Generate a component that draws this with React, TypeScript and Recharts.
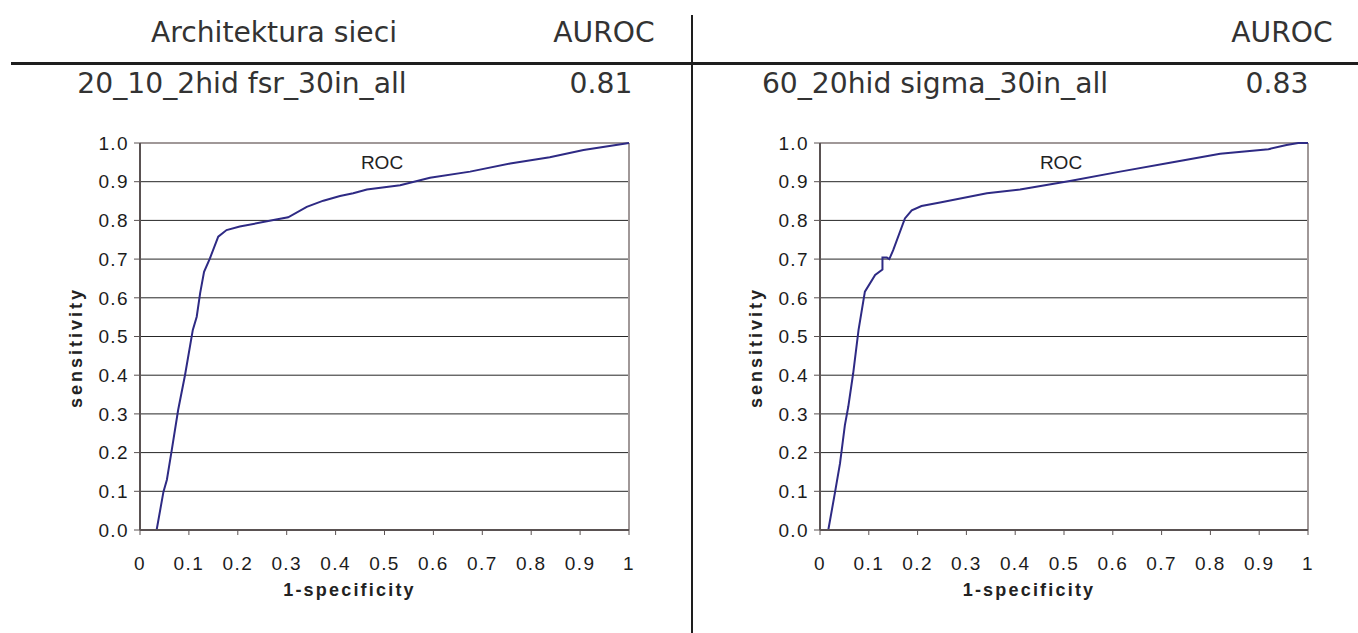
import { LineChart, Line, XAxis, YAxis, CartesianGrid, ReferenceLine, Label } from 'recharts'

// header row + first table row
const headLeft = ['Architektura sieci', 'AUROC']
const headRight = ['', 'AUROC']
const rowLeft = ['20_10_2hid fsr_30in_all', '0.81']
const rowRight = ['60_20hid sigma_30in_all', '0.83']

const xTicks = [0, 0.1, 0.2, 0.3, 0.4, 0.5, 0.6, 0.7, 0.8, 0.9, 1]
const yTicks = [0, 0.1, 0.2, 0.3, 0.4, 0.5, 0.6, 0.7, 0.8, 0.9, 1]

// left net: 20_10_2hid fsr_30in_all
const leftFpr = [
  0.02, 0.034, 0.048, 0.055, 0.065, 0.078, 0.092, 0.108, 0.116, 0.123, 0.131, 0.143, 0.16, 0.177, 0.204,
  0.273, 0.303, 0.341, 0.375, 0.409, 0.436, 0.464, 0.532, 0.593, 0.675, 0.757, 0.838, 0.907, 1,
]
const leftTpr = [
  0, 0, 0.099, 0.13, 0.207, 0.31, 0.4, 0.517, 0.551, 0.612, 0.667, 0.702, 0.758, 0.775, 0.784,
  0.801, 0.808, 0.835, 0.851, 0.863, 0.87, 0.88, 0.891, 0.91, 0.926, 0.947, 0.963, 0.982, 1,
]

// right net: 60_20hid sigma_30in_all
const rightFpr = [
  0.017, 0.031, 0.041, 0.051, 0.058, 0.068, 0.079, 0.092, 0.113, 0.128, 0.128, 0.137, 0.142, 0.15, 0.174,
  0.188, 0.208, 0.246, 0.342, 0.41, 0.512, 0.615, 0.717, 0.82, 0.919, 0.956, 0.98, 1,
]
const rightTpr = [
  0, 0.099, 0.172, 0.271, 0.319, 0.405, 0.517, 0.616, 0.659, 0.673, 0.704, 0.704, 0.7, 0.723, 0.805,
  0.826, 0.837, 0.846, 0.87, 0.88, 0.902, 0.926, 0.949, 0.972, 0.984, 0.995, 1, 1,
]

const toPoints = (xs: number[], ys: number[]) => xs.map((x, i) => ({ fpr: x, tpr: ys[i] }))

const FONT = 'Liberation Sans, Arial, sans-serif'
const tickFont = { fontFamily: FONT, fontSize: 19, letterSpacing: 1.4, fill: '#1c1c1c' }
const titleStyle = {
  fontFamily: FONT,
  fontSize: 18,
  fontWeight: 700,
  letterSpacing: 2.2,
  fill: '#222',
}

const fmtX = (v: number) => (v === 0 ? '0' : v === 1 ? '1' : v.toFixed(1))
const fmtY = (v: number) => v.toFixed(1)

const XTitle = ({ viewBox }: any) => (
  <text
    x={viewBox.x + viewBox.width / 2 - 35}
    y={viewBox.y + 60}
    textAnchor="middle"
    dominantBaseline="central"
    style={titleStyle}
  >
    1-specificity
  </text>
)

const YTitle = ({ viewBox }: any) => {
  const cx = viewBox.x + viewBox.width - 64
  const cy = viewBox.y + viewBox.height / 2 + 11
  return (
    <text
      x={cx}
      y={cy}
      textAnchor="middle"
      dominantBaseline="central"
      transform={`rotate(-90 ${cx} ${cy})`}
      style={{ ...titleStyle, letterSpacing: 3 }}
    >
      sensitivity
    </text>
  )
}

function RocChart({ xs, ys, width, left, right }: any) {
  return (
    <LineChart
      width={width}
      height={513}
      margin={{ top: 23, right, left, bottom: 43 }}
    >
      <CartesianGrid vertical={false} stroke="#262626" strokeWidth={1} />
      <XAxis
        type="number"
        dataKey="fpr"
        domain={[0, 1]}
        ticks={xTicks}
        tickFormatter={fmtX}
        tick={tickFont}
        tickSize={5}
        tickMargin={22}
        height={60}
        interval={0}
        axisLine={{ stroke: '#5a5252', strokeWidth: 2 }}
        tickLine={{ stroke: '#5a5252' }}
      >
        <Label content={<XTitle />} />
      </XAxis>
      <YAxis
        type="number"
        dataKey="tpr"
        domain={[0, 1]}
        ticks={yTicks}
        tickFormatter={fmtY}
        tick={tickFont}
        tickSize={6}
        tickMargin={5}
        width={60}
        interval={0}
        axisLine={{ stroke: '#5a5252', strokeWidth: 2 }}
        tickLine={{ stroke: '#5a5252' }}
      >
        <Label content={<YTitle />} />
      </YAxis>
      <ReferenceLine y={1} stroke="#a09898" strokeWidth={2} />
      <ReferenceLine x={1} stroke="#a09898" strokeWidth={2} />
      <Line
        data={toPoints(xs, ys)}
        dataKey="tpr"
        type="linear"
        stroke="#2e2a84"
        strokeWidth={2}
        dot={false}
        isAnimationActive={false}
      />
    </LineChart>
  )
}

const cellFont = {
  position: 'absolute' as const,
  fontFamily: 'DejaVu Sans, Verdana, sans-serif',
  fontSize: 28.2,
  lineHeight: '28px',
  color: '#333',
  width: 500,
  textAlign: 'center' as const,
  whiteSpace: 'nowrap' as const,
}

const cell = (text: string, cx: number, top: number) => (
  <div style={{ ...cellFont, left: cx - 250, top }}>{text}</div>
)

const rocLabel = {
  position: 'absolute' as const,
  fontFamily: FONT,
  fontSize: 19,
  lineHeight: '19px',
  color: '#222',
  width: 100,
  textAlign: 'center' as const,
  top: 153,
}

export default function App() {
  return (
    <div style={{ position: 'absolute', left: 0, top: 0, width: 1358, height: 633, background: '#fff', overflow: 'hidden' }}>
      {cell(headLeft[0], 274, 19)}
      {cell(headLeft[1], 604, 19)}
      {cell(headRight[0], 935, 19)}
      {cell(headRight[1], 1282, 19)}
      {cell(rowLeft[0], 242, 70)}
      {cell(rowLeft[1], 601, 70)}
      {cell(rowRight[0], 935, 70)}
      {cell(rowRight[1], 1277, 70)}

      <div style={{ position: 'absolute', left: 11, top: 62, width: 1347, height: 3, background: '#1e1e1e' }} />
      <div style={{ position: 'absolute', left: 691, top: 15, width: 2, height: 618, background: '#1e1e1e' }} />

      <div style={{ position: 'absolute', left: 0, top: 120 }}>
        <RocChart xs={leftFpr} ys={leftTpr} width={690} left={80} right={61} />
      </div>
      <div style={{ position: 'absolute', left: 690, top: 120 }}>
        <RocChart xs={rightFpr} ys={rightTpr} width={668} left={70} right={50} />
      </div>

      <div style={{ ...rocLabel, left: 332 }}>ROC</div>
      <div style={{ ...rocLabel, left: 1011 }}>ROC</div>
    </div>
  )
}
